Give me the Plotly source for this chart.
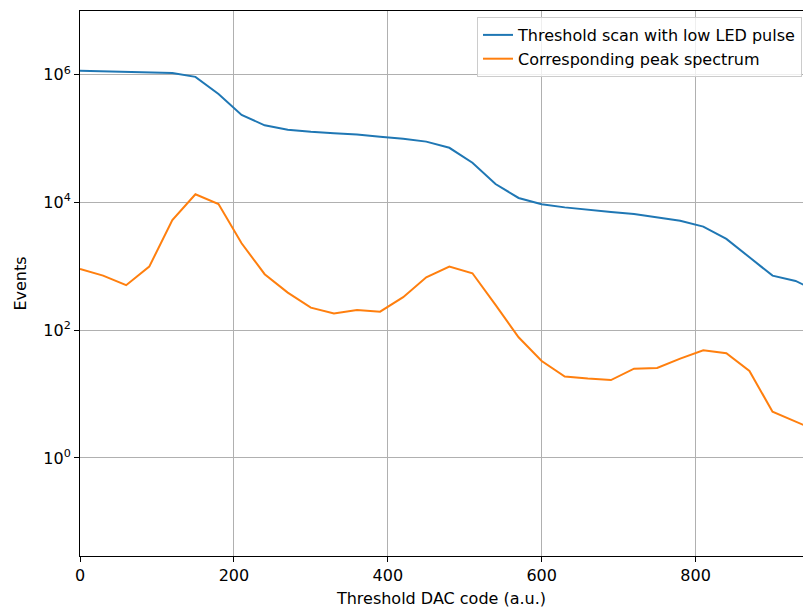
import plotly.graph_objects as go

# Threshold DAC codes (a.u.), one step every 30 codes
dac_code = [0, 30, 60, 90, 120, 150, 180, 210, 240, 270, 300, 330, 360, 390,
            420, 450, 480, 510, 540, 570, 600, 630, 660, 690, 720, 750, 780,
            810, 840, 870, 900, 930, 960]

# Integrated threshold scan (events above threshold)
threshold_scan = [1.16e6, 1.14e6, 1.11e6, 1.09e6, 1.07e6, 9.3e5, 5.0e5, 2.36e5,
                  1.62e5, 1.38e5, 1.28e5, 1.22e5, 1.16e5, 1.07e5, 1.0e5, 9.0e4,
                  7.2e4, 4.2e4, 1.95e4, 1.18e4, 9.4e3, 8.4e3, 7.66e3, 7.1e3,
                  6.6e3, 5.9e3, 5.2e3, 4.2e3, 2.7e3, 1.39e3, 716, 592, 396]

# Differential (peak) spectrum derived from the scan
peak_spectrum = [912, 716, 507, 991, 5.3e3, 1.35e4, 9.5e3, 2.3e3, 754, 388, 226,
                 183, 208, 195, 329, 676, 991, 780, 249, 77.6, 33, 18.8, 17.5,
                 16.6, 25, 25.7, 35.9, 48.6, 43.7, 23, 5.3, 3.7, 2.6]

y_tick_vals = [1, 1e2, 1e4, 1e6]
y_tick_text = ["10<sup>0</sup>", "10<sup>2</sup>", "10<sup>4</sup>", "10<sup>6</sup>"]
x_tick_vals = [0, 200, 400, 600, 800]

font_family = "DejaVu Sans"
font_size = 16

fig = go.Figure()
fig.add_trace(go.Scatter(
    x=dac_code, y=threshold_scan, mode="lines",
    name="Threshold scan with low LED pulse",
    line=dict(color="#1f77b4", width=2),
))
fig.add_trace(go.Scatter(
    x=dac_code, y=peak_spectrum, mode="lines",
    name="Corresponding peak spectrum",
    line=dict(color="#ff7f0e", width=2),
))

fig.update_layout(
    width=803, height=613,
    margin=dict(l=80, r=0, t=11, b=57),
    paper_bgcolor="white", plot_bgcolor="white",
    font=dict(family=font_family, size=font_size, color="black"),
    showlegend=True,
    legend=dict(
        x=0.9986, y=0.989, xanchor="right", yanchor="top",
        bgcolor="rgba(255,255,255,0.8)", bordercolor="#cccccc", borderwidth=1,
        font=dict(family=font_family, size=font_size, color="black"),
        tracegroupgap=0,
    ),
)

fig.update_xaxes(
    range=[0, 939.6],
    tickvals=x_tick_vals,
    ticks="outside", ticklen=5, tickwidth=1, tickcolor="black",
    showline=True, linecolor="black", linewidth=1, mirror=True,
    showgrid=True, gridcolor="#b0b0b0", gridwidth=1,
    zeroline=False,
    title=dict(text="Threshold DAC code (a.u.)", standoff=8,
               font=dict(family=font_family, size=font_size)),
    tickfont=dict(family=font_family, size=font_size),
)

fig.update_yaxes(
    type="log",
    range=[-1.536, 7.0],
    tickvals=y_tick_vals, ticktext=y_tick_text,
    ticks="outside", ticklen=5, tickwidth=1, tickcolor="black",
    showline=True, linecolor="black", linewidth=1, mirror=False,
    showgrid=True, gridcolor="#b0b0b0", gridwidth=1,
    zeroline=False,
    title=dict(text="Events", standoff=12,
               font=dict(family=font_family, size=font_size)),
    tickfont=dict(family=font_family, size=font_size),
)

fig.write_html("out.html")
